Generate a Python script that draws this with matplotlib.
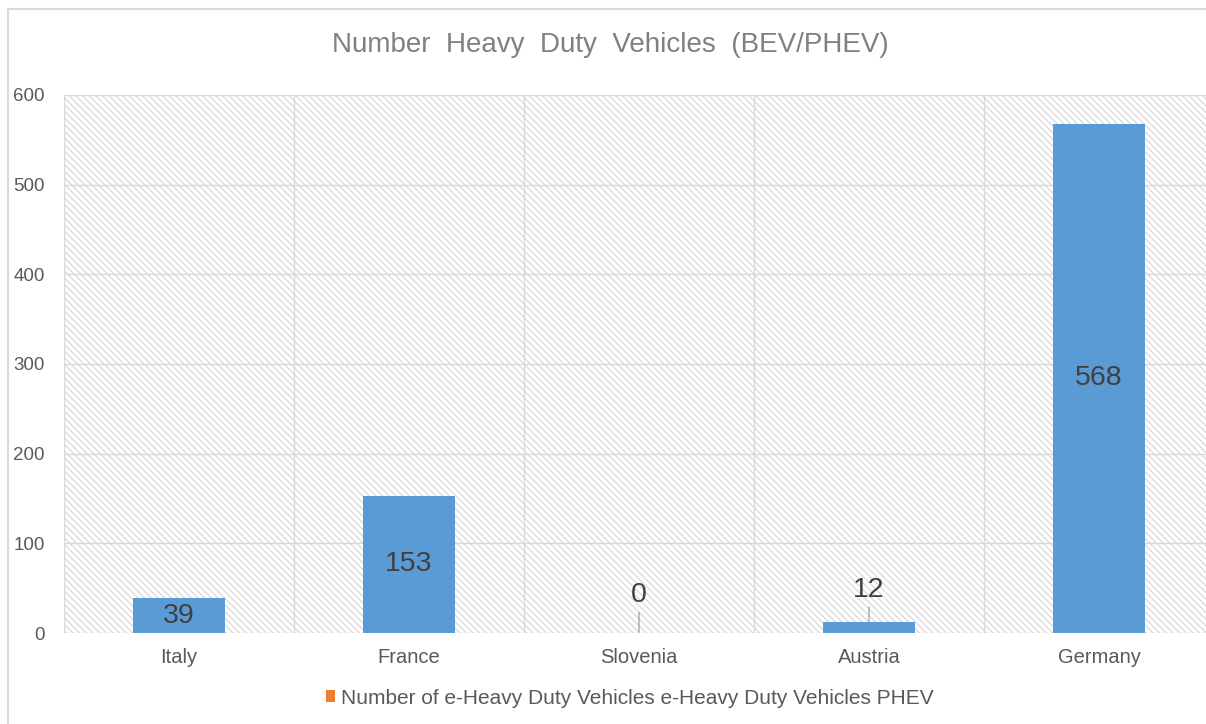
import matplotlib.pyplot as plt
from matplotlib.patches import Rectangle

# data
countries = ['Italy', 'France', 'Slovenia', 'Austria', 'Germany']
bev_values = [39, 153, 0, 12, 568]
phev_values = [0, 0, 0, 0, 0]
y_ticks = [0, 100, 200, 300, 400, 500, 600]

BLUE = '#5B9BD5'
ORANGE = '#ED7D31'
GRID = '#d9d9d9'
TEXT = '#595959'

plt.rcParams['font.family'] = ['Liberation Sans', 'DejaVu Sans']
plt.rcParams['hatch.color'] = '#d4d4d4'
plt.rcParams['hatch.linewidth'] = 0.8

fig = plt.figure(figsize=(12.06, 7.24), dpi=100)

# outer chart border (cropped on right and bottom)
fig.patches.append(Rectangle((8 / 1206, -0.05), 1.2, 1 - 9 / 724 + 0.05,
                             transform=fig.transFigure, fill=False,
                             edgecolor=GRID, linewidth=1.5))

ax = fig.add_axes([64 / 1206, 91 / 724, 1150 / 1206, 538 / 724])
ax.set_xlim(-0.5, len(countries) - 0.5)
ax.set_ylim(0, 600)

# hatched plot background
ax.add_patch(Rectangle((0, 0), 1, 1, transform=ax.transAxes, facecolor='white',
                       hatch='\\\\\\\\\\', edgecolor='#d4d4d4', linewidth=0, zorder=0))

x = list(range(len(countries)))
ax.bar(x, bev_values, width=0.4, color=BLUE, zorder=3)
ax.bar(x, phev_values, width=0.4, bottom=bev_values, color=ORANGE, zorder=3,
       label='Number of e-Heavy Duty Vehicles e-Heavy Duty Vehicles PHEV')

# grid
for t in y_ticks:
    ax.axhline(t, color=GRID, linewidth=1, zorder=1)
for b in range(len(countries) + 1):
    ax.axvline(b - 0.5, color=GRID, linewidth=1, zorder=1)

for s in ax.spines.values():
    s.set_visible(False)
ax.set_yticks(y_ticks)
ax.set_xticks(x)
ax.set_xticklabels(countries)
ax.tick_params(axis='both', length=0, colors=TEXT)
ax.tick_params(axis='y', pad=14, labelsize=13.5)
ax.tick_params(axis='x', pad=11, labelsize=14.5)

# data labels
for i, v in enumerate(bev_values):
    if v > 30:
        ax.text(i, v / 2, str(v), ha='center', va='center', fontsize=20.5,
                color='#404040', zorder=4)
    else:
        ax.annotate(str(v), xy=(i, v + 1), xytext=(i, v / 2 + 42),
                    ha='center', va='center', fontsize=20.5, color='#404040',
                    arrowprops=dict(arrowstyle='-', color='#a6a6a6', lw=1,
                                    shrinkA=1, shrinkB=0), zorder=4)

fig.text(610 / 1206, 1 - 45 / 724, 'Number  Heavy  Duty  Vehicles  (BEV/PHEV)',
         ha='center', va='center', fontsize=20, color='#808080')

ax.legend(loc='center', bbox_to_anchor=(630 / 1206, 1 - 698 / 724),
          bbox_transform=fig.transFigure, frameon=False, fontsize=15,
          labelcolor=TEXT, handlelength=0.45, handleheight=0.45,
          handletextpad=0.3)

fig.savefig('out.png', dpi=100)
